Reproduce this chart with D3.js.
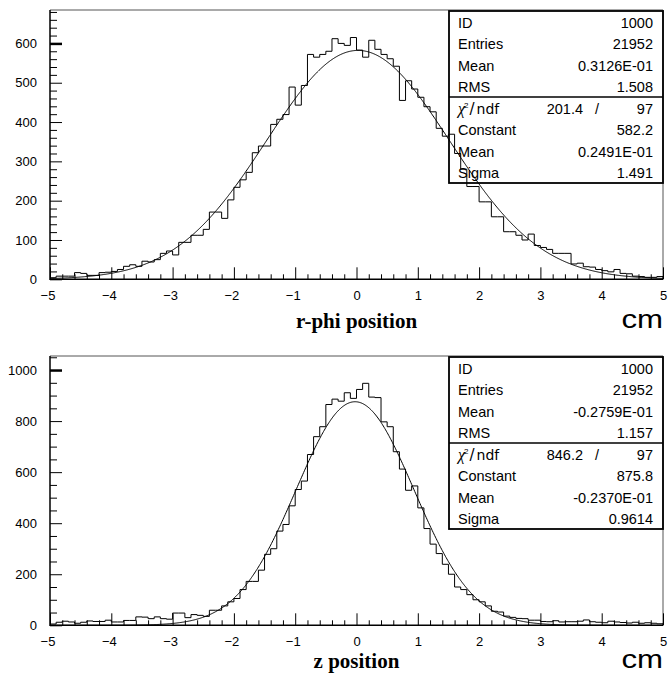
<!DOCTYPE html>
<html><head><meta charset="utf-8">
<script src="https://cdn.jsdelivr.net/npm/d3@7"></script>
<style>body{margin:0;background:#fff}svg{display:block}</style>
</head><body><svg id="c" width="668" height="678"></svg>
<script>
// ---- data ----
const binRange = [-5, 5];
const rphiCounts = [4,8,8,8,17,15,10,10,17,18,
  20,25,33,37,33,46,44,50,66,72,
  62,94,94,112,112,127,171,171,155,202,
  234,253,272,322,339,339,394,407,419,489,
  443,493,572,565,572,580,612,600,595,615,
  583,565,608,585,572,561,542,455,505,484,
  463,439,426,384,364,369,320,280,236,236,
  197,197,159,159,121,121,112,100,115,86,
  81,76,66,66,66,39,41,32,31,25,
  22,19,25,15,14,8,7,5,5,7];
const zCounts = [5,12,16,13,8,12,17,15,15,20,
  13,13,19,19,33,32,26,33,26,24,
  48,48,30,42,39,35,59,59,76,92,
  105,140,172,172,216,278,300,369,395,468,
  532,565,669,739,778,865,886,878,911,889,
  924,948,894,892,797,778,680,612,529,546,
  460,379,318,281,239,200,150,140,120,100,
  92,76,55,52,36,31,27,26,20,20,
  15,14,18,13,14,14,16,21,14,12,
  10,16,13,11,9,12,8,10,8,6];
const xTickValues = [-5,-4,-3,-2,-1,0,1,2,3,4,5];
const rphiYTicks = [0,100,200,300,400,500,600];
const zYTicks = [0,200,400,600,800,1000];
const rphiYMax = 685, zYMax = 1055;
const rphiStatLabels = ["ID","Entries","Mean","RMS"];
const rphiStatValues = ["1000","21952","0.3126E-01","1.508"];
const rphiChi2 = ["201.4","97"];
const rphiFitLabels = ["Constant","Mean","Sigma"];
const rphiFitValues = ["582.2","0.2491E-01","1.491"];
const rphiFitParams = [582.2, 0.02491, 1.491];
const zStatLabels = ["ID","Entries","Mean","RMS"];
const zStatValues = ["1000","21952","-0.2759E-01","1.157"];
const zChi2 = ["846.2","97"];
const zFitLabels = ["Constant","Mean","Sigma"];
const zFitValues = ["875.8","-0.2370E-01","0.9614"];
const zFitParams = [875.8, -0.02370, 0.9614];
const titles = ["r-phi position","z position"];
const unitLabel = "cm";

// ---- drawing ----
const svg = d3.select("#c");
const L = 50, R = 663, H = 269.3;
const SANS = "'Liberation Sans', Arial, Helvetica, sans-serif";
const SERIF = "'Liberation Serif', 'Times New Roman', serif";

function panel(top, counts, yMax, yTicks, minorStep, statL, statV, chi2, fitL, fitV, fit, title, titleOff, idx) {
  const g = svg.append("g");
  const x = d3.scaleLinear().domain(binRange).range([L, R]);
  const y = d3.scaleLinear().domain([0, yMax]).range([top + H, top]);
  const n = counts.length;
  const w = (binRange[1] - binRange[0]) / n;
  const clipId = "clip" + idx;
  svg.append("clipPath").attr("id", clipId).append("rect")
    .attr("x", L).attr("y", top).attr("width", R - L).attr("height", H);

  // frame top/right
  g.append("path").attr("d", `M${L},${top}H${R}V${top + H}`)
    .attr("fill", "none").attr("stroke", "#555").attr("stroke-width", 1);

  // histogram
  const pts = [[binRange[0], 0]];
  counts.forEach((c, i) => pts.push([binRange[0] + i * w, c]));
  pts.push([binRange[1], counts[n - 1]]);
  pts.push([binRange[1], 0]);
  const hl = d3.line().x(d => x(d[0])).y(d => y(d[1])).curve(d3.curveStepAfter);
  g.append("path").attr("d", hl(pts)).attr("fill", "none")
    .attr("stroke", "#000").attr("stroke-width", 1).attr("clip-path", `url(#${clipId})`);

  // fit curve
  const [C, mu, s] = fit;
  const fx = d3.range(0, 801).map(i => binRange[0] + i * (binRange[1] - binRange[0]) / 800);
  const fl = d3.line().x(d => x(d)).y(d => y(C * Math.exp(-0.5 * ((d - mu) / s) ** 2)));
  g.append("path").attr("d", fl(fx)).attr("fill", "none")
    .attr("stroke", "#000").attr("stroke-width", 1).attr("clip-path", `url(#${clipId})`);

  // y axis
  const yMinor = d3.range(0, yMax + 0.001, minorStep).filter(v => !yTicks.includes(v));
  const ya = g.append("g").attr("transform", `translate(${L},0)`)
    .call(d3.axisLeft(y).tickValues(yTicks).tickSizeInner(-12).tickSizeOuter(0).tickPadding(13).tickFormat(d3.format("d")));
  ya.select(".domain").remove();
  ya.selectAll("line").attr("stroke", "#000").attr("stroke-width", (d) => d === yTicks[yTicks.length - 1] ? 2.5 : 1);
  ya.selectAll("text").attr("font-family", SANS).attr("font-size", 13).attr("fill", "#000");
  const ym = g.append("g").attr("transform", `translate(${L},0)`)
    .call(d3.axisLeft(y).tickValues(yMinor).tickSizeInner(-7).tickSizeOuter(0).tickFormat(""));
  ym.select(".domain").remove();
  ym.selectAll("line").attr("stroke", "#000");

  // x axis
  const xMinor = d3.range(binRange[0], binRange[1] + 0.001, 0.2).map(v => Math.round(v * 10) / 10)
    .filter(v => !xTickValues.includes(v));
  const xa = g.append("g").attr("transform", `translate(0,${top + H})`)
    .call(d3.axisBottom(x).tickValues(xTickValues).tickSizeInner(-12).tickSizeOuter(0).tickPadding(11).tickFormat(d3.format("d")));
  xa.select(".domain").remove();
  xa.selectAll("line").attr("stroke", "#000");
  xa.selectAll("text").attr("font-family", SANS).attr("font-size", 13).attr("fill", "#000")
    .attr("dx", d => d < 0 ? -2.5 : 0);
  const xm = g.append("g").attr("transform", `translate(0,${top + H})`)
    .call(d3.axisBottom(x).tickValues(xMinor).tickSizeInner(-5).tickSizeOuter(0).tickFormat(""));
  xm.select(".domain").remove();
  xm.selectAll("line").attr("stroke", "#000");

  // axis lines
  g.append("path").attr("d", `M${L},${top}V${top + H}H${R}`).attr("fill", "none")
    .attr("stroke", "#000").attr("stroke-width", 1.5);

  // stats box
  const bx = 449, bw = R - bx, by = top + 1, bh = 172, div = top + 87;
  g.append("rect").attr("x", bx).attr("y", by).attr("width", bw).attr("height", bh)
    .attr("fill", "none").attr("stroke", "#000").attr("stroke-width", 1.8);
  g.append("line").attr("x1", bx).attr("x2", R).attr("y1", div).attr("y2", div)
    .attr("stroke", "#000").attr("stroke-width", 1.5);
  const rowY = k => top + 12.5 + 21.45 * k + 5.3;
  const st = g.append("g").attr("font-family", SANS).attr("font-size", 14.5).attr("fill", "#000");
  const lx = 458, vx = 653;
  statL.forEach((t, k) => {
    st.append("text").attr("x", lx).attr("y", rowY(k)).text(t);
    st.append("text").attr("x", vx).attr("y", rowY(k)).attr("text-anchor", "end").text(statV[k]);
  });
  // chi2 row
  const c2 = st.append("text").attr("x", lx).attr("y", rowY(4)).attr("fill", "#000");
  c2.append("tspan").attr("font-family", SERIF).attr("font-style", "italic").attr("font-size", 16).text("χ");
  c2.append("tspan").attr("font-size", 8).attr("dy", -6).attr("dx", -1).text("2");
  c2.append("tspan").attr("dy", 6).attr("dx", 1).attr("font-family", "'DejaVu Sans', sans-serif").attr("font-size", 15).text("/");
  c2.append("tspan").attr("dx", 2).attr("font-family", "'DejaVu Sans', sans-serif").attr("font-size", 14).text("ndf");
  st.append("text").attr("x", 583).attr("y", rowY(4)).attr("text-anchor", "end").text(chi2[0]);
  st.append("text").attr("x", 597).attr("y", rowY(4)).attr("text-anchor", "middle").text("/");
  st.append("text").attr("x", vx).attr("y", rowY(4)).attr("text-anchor", "end").text(chi2[1]);
  fitL.forEach((t, k) => {
    st.append("text").attr("x", lx).attr("y", rowY(5 + k)).text(t);
    st.append("text").attr("x", vx).attr("y", rowY(5 + k)).attr("text-anchor", "end").text(fitV[k]);
  });

  // titles (centred on the frame)
  g.append("text").attr("x", (L + R) / 2).attr("y", top + titleOff).attr("text-anchor", "middle")
    .attr("font-family", SERIF).attr("font-weight", "bold").attr("font-size", 21).text(title);
  g.append("text").attr("text-anchor", "end")
    .attr("transform", `translate(${R},${top + titleOff}) scale(1.2,1)`)
    .attr("font-family", SANS).attr("font-size", 26).text(unitLabel);
}

panel(10, rphiCounts, rphiYMax, rphiYTicks, 20, rphiStatLabels, rphiStatValues, rphiChi2,
  rphiFitLabels, rphiFitValues, rphiFitParams, titles[0], 318, 0);
panel(356, zCounts, zYMax, zYTicks, 50, zStatLabels, zStatValues, zChi2,
  zFitLabels, zFitValues, zFitParams, titles[1], 312, 1);
</script></body></html>
